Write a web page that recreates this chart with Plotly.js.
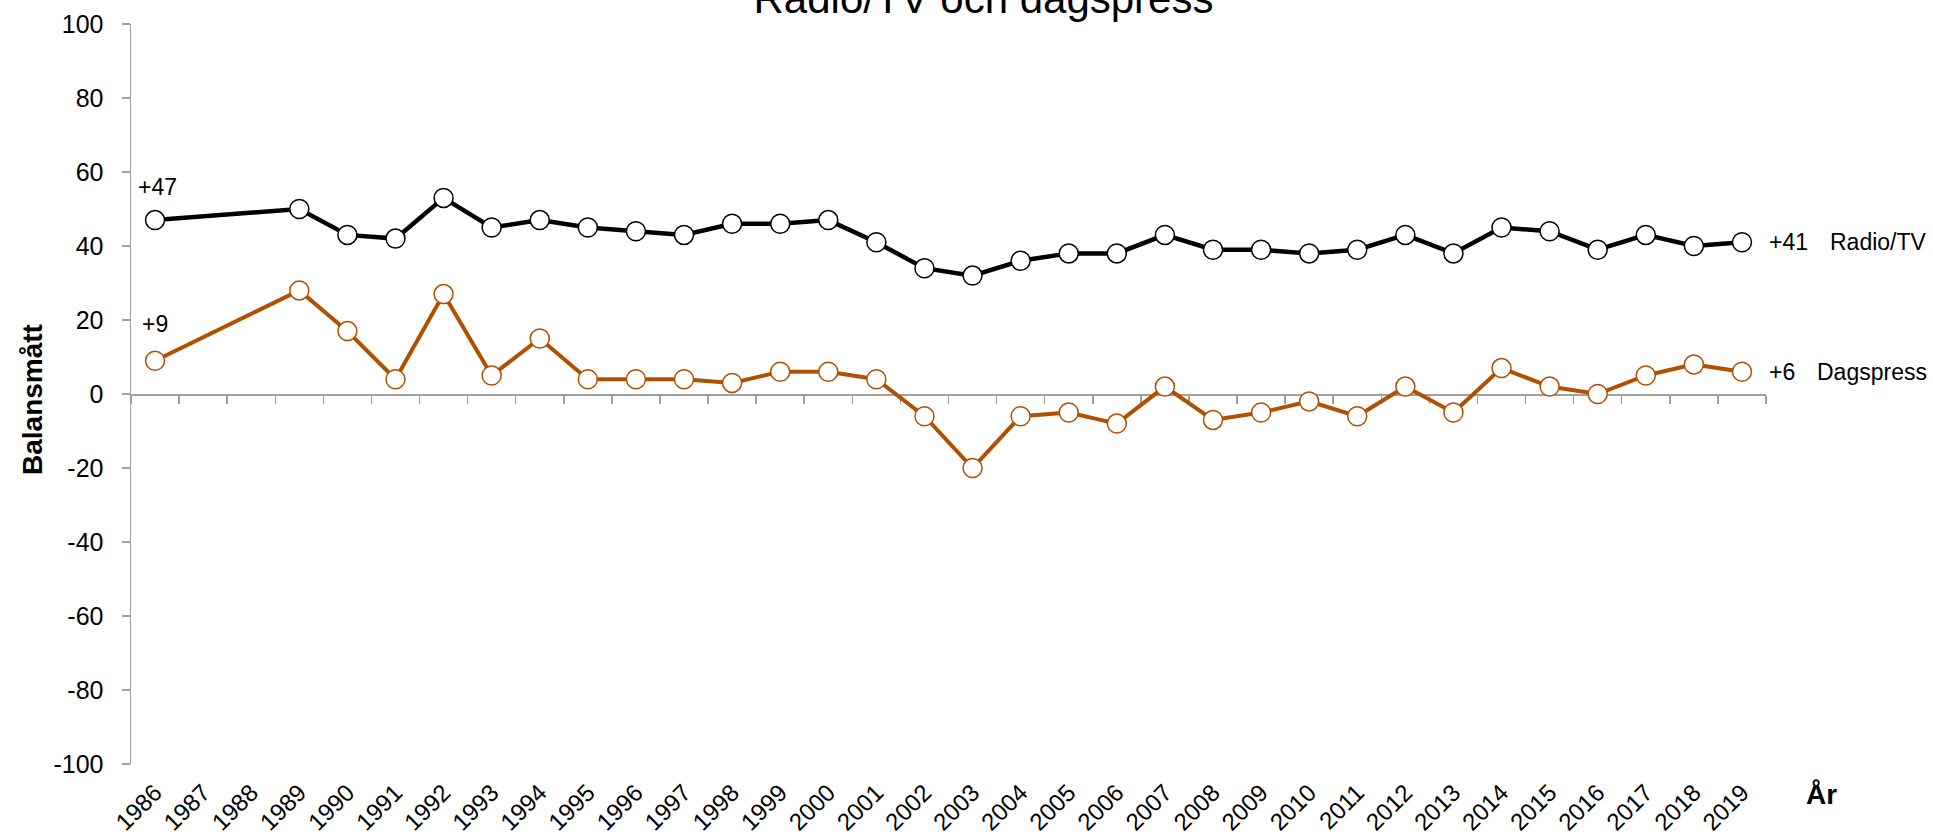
<!DOCTYPE html>
<html>
<head>
<meta charset="utf-8">
<script src="https://cdn.plot.ly/plotly-3.0.1.min.js"></script>
<style>
  html, body { margin: 0; padding: 0; background: #fff; }
  #chart { width: 1933px; height: 836px; }
</style>
</head>
<body>
<div id="chart"></div>
<script>
const years = ["1986","1987","1988","1989","1990","1991","1992","1993","1994","1995","1996","1997",
  "1998","1999","2000","2001","2002","2003","2004","2005","2006","2007","2008","2009","2010",
  "2011","2012","2013","2014","2015","2016","2017","2018","2019"];
const radioTV = [47,null,null,50,43,42,53,45,47,45,44,43,46,46,47,41,34,32,36,38,38,43,39,39,38,39,43,38,45,44,39,43,40,41];
const dagspress = [9,null,null,28,17,4,27,5,15,4,4,4,3,6,6,4,-6,-20,-6,-5,-8,2,-7,-5,-2,-6,2,-5,7,2,0,5,8,6];
const seriesNames = ["Radio/TV", "Dagspress"];
const yTicks = [-100,-80,-60,-40,-20,0,20,40,60,80,100];

const FONT = "Liberation Sans, Arial, Helvetica, sans-serif";
const BLACK = "#000000";
const ORANGE = "#B05000";
const AXIS = "#a0a0a0";

function fmt(v) { return (v > 0 ? "+" : "") + v; }
function firstIdx(a) { return a.findIndex(v => v !== null); }
function lastIdx(a) { for (let i = a.length - 1; i >= 0; i--) if (a[i] !== null) return i; }

const traces = [
  {
    x: years, y: radioTV, name: seriesNames[0], type: "scatter", mode: "lines+markers",
    connectgaps: true, xaxis: "x", yaxis: "y",
    line: { color: BLACK, width: 4.5 },
    marker: { size: 19, color: "#ffffff", line: { color: BLACK, width: 1.5 } },
    hoverinfo: "x+y"
  },
  {
    x: years, y: dagspress, name: seriesNames[1], type: "scatter", mode: "lines+markers",
    connectgaps: true, xaxis: "x2", yaxis: "y",
    line: { color: ORANGE, width: 4 },
    marker: { size: 19, color: "#ffffff", line: { color: ORANGE, width: 1.5 } },
    hoverinfo: "x+y"
  }
];

const plotL = 131, plotR = 1766, plotT = 24, plotB = 764;
const W = 1933, H = 836;
const pw = plotR - plotL, ph = plotB - plotT;
const px = v => (v - plotL) / pw;
const py = v => (plotB - v) / ph;

const annFont = () => ({ family: FONT, size: 23, color: "#000" });
const f1 = firstIdx(radioTV), f2 = firstIdx(dagspress);
const l1 = lastIdx(radioTV), l2 = lastIdx(dagspress);
const annotations = [
  { x: f1, y: radioTV[f1], xref: "x", yref: "y", text: fmt(radioTV[f1]),
    showarrow: false, yshift: 33, xshift: 2, font: annFont() },
  { x: f2, y: dagspress[f2], xref: "x", yref: "y", text: fmt(dagspress[f2]),
    showarrow: false, yshift: 37, xshift: 0, font: annFont() },
  { x: l1, y: radioTV[l1], xref: "x", yref: "y", text: fmt(radioTV[l1]),
    showarrow: false, xanchor: "left", xshift: 25, font: annFont() },
  { x: l1, y: radioTV[l1], xref: "x", yref: "y", text: seriesNames[0],
    showarrow: false, xanchor: "left", xshift: 86, font: annFont() },
  { x: l2, y: dagspress[l2], xref: "x", yref: "y", text: fmt(dagspress[l2]),
    showarrow: false, xanchor: "left", xshift: 25, font: annFont() },
  { x: l2, y: dagspress[l2], xref: "x", yref: "y", text: seriesNames[1],
    showarrow: false, xanchor: "left", xshift: 73, font: annFont() },
  { x: px(1821), y: py(794), xref: "paper", yref: "paper", text: "<b>År</b>",
    showarrow: false, xanchor: "center", yanchor: "middle",
    font: { family: FONT, size: 28, color: "#000" } },
  { x: px(33), y: py(400), xref: "paper", yref: "paper", text: "<b>Balansmått</b>",
    showarrow: false, xanchor: "center", yanchor: "middle", textangle: -90,
    font: { family: FONT, size: 28, color: "#000" } }
];

const layout = {
  width: W, height: H,
  margin: { l: plotL, r: W - plotR, t: plotT, b: H - plotB, pad: 0 },
  paper_bgcolor: "#ffffff", plot_bgcolor: "#ffffff",
  showlegend: false,
  font: { family: FONT, color: "#000" },
  title: {
    text: "Radio/TV och dagspress",
    font: { family: FONT, size: 42, color: "#000" },
    xref: "container", yref: "container",
    x: 983.5 / W, xanchor: "center",
    y: 1 - 13 / H, yanchor: "bottom"
  },
  xaxis: {
    type: "category", range: [-0.5, years.length - 0.5],
    showline: false, showgrid: false, zeroline: false,
    ticks: "outside", ticklen: 4, tickcolor: "rgba(0,0,0,0)",
    tickangle: -45, tickfont: { family: FONT, size: 24, color: "#000" },
    anchor: "y", fixedrange: true
  },
  xaxis2: {
    type: "category", range: [-0.5, years.length - 0.5],
    overlaying: "x", anchor: "free", position: 0.5,
    showline: true, linecolor: AXIS, linewidth: 1.5,
    showgrid: false, zeroline: false,
    ticks: "outside", tickson: "boundaries", ticklen: 8, tickwidth: 1.5, tickcolor: AXIS,
    showticklabels: false, layer: "below traces", fixedrange: true
  },
  yaxis: {
    range: [-100, 100], tickvals: yTicks, ticktext: yTicks.map(String),
    showline: true, linecolor: AXIS, linewidth: 1.5,
    showgrid: false, zeroline: false,
    ticks: "outside", ticklen: 8, tickwidth: 1.5, tickcolor: AXIS,
    ticklabelstandoff: 13,
    tickfont: { family: FONT, size: 25, color: "#000" },
    layer: "below traces", fixedrange: true
  },
  annotations: annotations
};

Plotly.newPlot("chart", traces, layout, { staticPlot: true, displayModeBar: false });
</script>
</body>
</html>
